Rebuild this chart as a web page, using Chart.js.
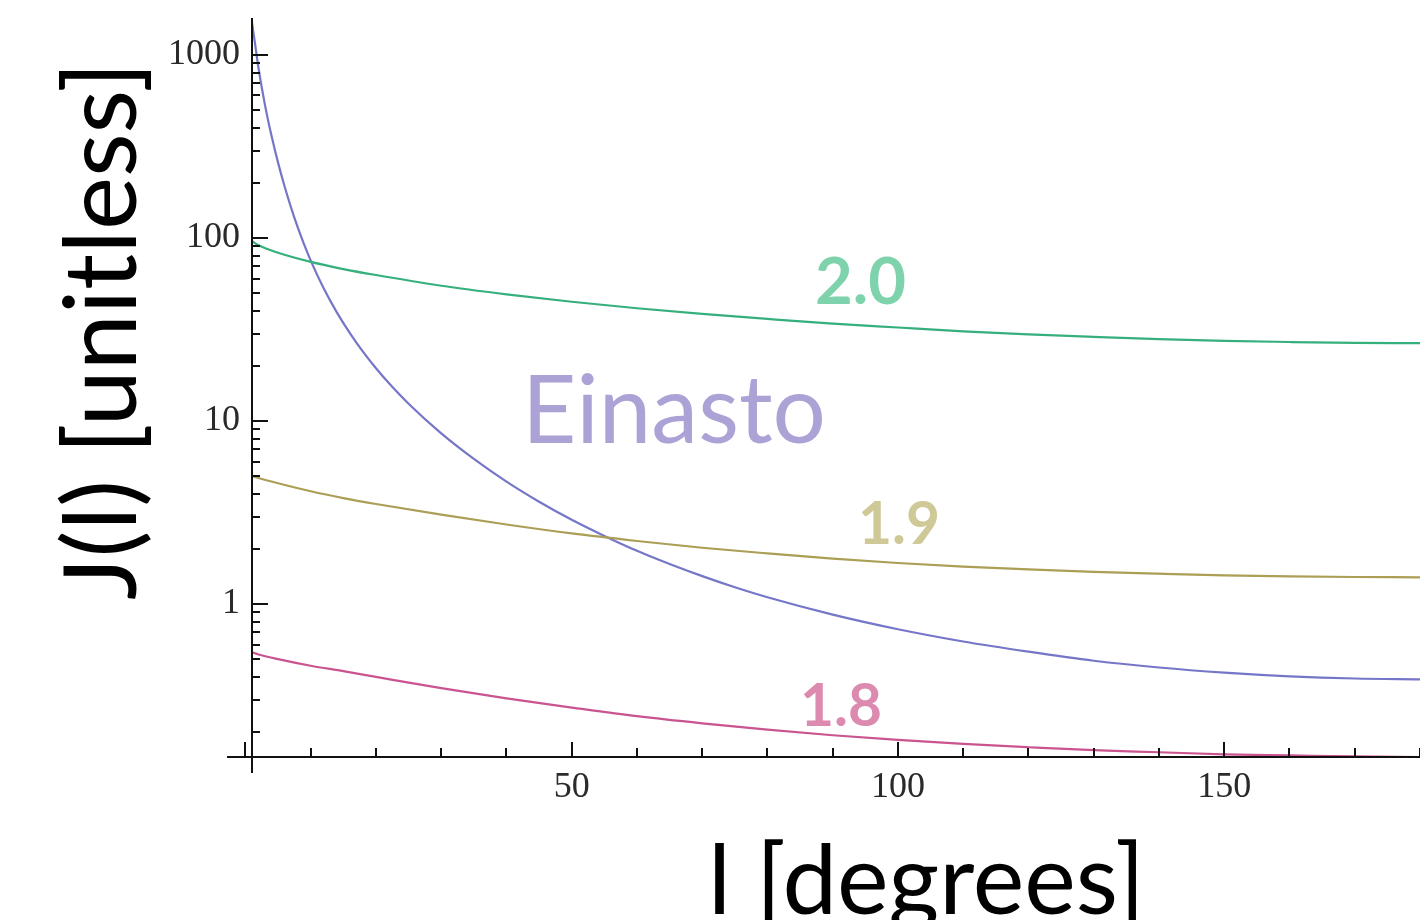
<!DOCTYPE html>
<html>
<head>
<meta charset="utf-8">
<script src="https://cdn.jsdelivr.net/npm/chart.js@4.4.1/dist/chart.umd.min.js"></script>
<style>
  html, body { margin: 0; padding: 0; background: #fff; }
  #wrap { width: 1420px; height: 920px; position: relative; }
</style>
</head>
<body>
<div id="wrap"><canvas id="c" width="1420" height="920"></canvas></div>
<script>
// ---- data ----
const lGnfw = [1, 2, 5, 10, 15, 20, 30, 40, 50, 60, 70, 80, 90, 100, 110, 120, 130, 140, 150, 160, 170, 180];
const jGamma20 = [96, 91.2, 83, 74, 67.6, 62.7, 54.8, 49.2, 44.8, 41.3, 38.5, 36.1, 34.0, 32.4, 30.9, 29.7, 28.8, 28.0, 27.4, 27.0, 26.7, 26.6];
const jGamma19 = [5.0, 4.88, 4.57, 4.13, 3.79, 3.52, 3.08, 2.72, 2.43, 2.21, 2.03, 1.89, 1.77, 1.675, 1.6, 1.545, 1.50, 1.465, 1.435, 1.415, 1.405, 1.40];
const jGamma18 = [0.545, 0.53, 0.50, 0.46, 0.43, 0.40, 0.347, 0.305, 0.272, 0.244, 0.223, 0.206, 0.192, 0.181, 0.172, 0.165, 0.159, 0.155, 0.151, 0.149, 0.147, 0.146];
const lEinasto = [1, 1.5, 2, 3, 4, 5, 6, 7, 8, 9, 10, 12, 14, 16, 18, 20, 22, 25, 30, 35, 40, 45, 50, 55, 60, 65, 70, 75, 80, 90, 100, 110, 120, 130, 140, 150, 160, 170, 180];
const jEinasto = [1500, 1129, 845, 530, 360, 257, 191, 146, 114.4, 91.9, 75.2, 52.9, 39.2, 30.2, 23.9, 19.4, 16.06, 12.42, 8.55, 6.20, 4.66, 3.62, 2.885, 2.355, 1.953, 1.653, 1.42, 1.235, 1.089, 0.875, 0.728, 0.624, 0.549, 0.49, 0.45, 0.422, 0.403, 0.392, 0.388];

const seriesNames = ['2.0', '1.9', '1.8', 'Einasto'];
const xTickLabels = [50, 100, 150];
const yTickLabels = [1, 10, 100, 1000];
const xTitle = 'l [degrees]';
const yTitle = 'J(l) [unitless]';

// ---- styling ----
const X_MIN = 1, X_MAX = 180, Y_MIN = 0.146, Y_MAX = 1590;
const lineColors = ['#35b07c', '#ab9e55', '#c9548f', '#7676c9'];
const labelColors = ['#7ed3ad', '#cfc897', '#dc8ab0', '#ada2d6'];
const SANS = 'Lato, "Open Sans", sans-serif';

function pts(xs, ys) { return xs.map((x, i) => ({ x: x, y: ys[i] })); }

const datasets = [
  { label: seriesNames[0], data: pts(lGnfw, jGamma20), borderColor: lineColors[0] },
  { label: seriesNames[1], data: pts(lGnfw, jGamma19), borderColor: lineColors[1] },
  { label: seriesNames[2], data: pts(lGnfw, jGamma18), borderColor: lineColors[2] },
  { label: seriesNames[3], data: pts(lEinasto, jEinasto), borderColor: lineColors[3] }
].map(d => Object.assign(d, {
  showLine: true, pointRadius: 0, borderWidth: 2.2, fill: false,
  cubicInterpolationMode: 'monotone'
}));

function fitText(ctx, text, weight, target) {
  ctx.font = weight + ' 100px ' + SANS;
  const w = ctx.measureText(text).width;
  const size = 100 * target / w;
  ctx.font = weight + ' ' + size.toFixed(2) + 'px ' + SANS;
}

const decor = {
  id: 'decor',
  afterDatasetsDraw(chart) {
    const ctx = chart.ctx;
    const xs = chart.scales.x, ys = chart.scales.y;
    const ax = xs.getPixelForValue(X_MIN);
    const ay = ys.getPixelForValue(Y_MIN);
    ctx.save();
    ctx.strokeStyle = '#111';
    ctx.lineWidth = 2;
    // axes
    ctx.beginPath();
    ctx.moveTo(ax, chart.chartArea.top);
    ctx.lineTo(ax, ay + 16);
    ctx.moveTo(ax - 25, ay);
    ctx.lineTo(chart.chartArea.right, ay);
    ctx.stroke();
    // y ticks (inward)
    ctx.beginPath();
    for (let d = -1; d <= 3; d++) {
      for (let m = 1; m <= 9; m++) {
        const v = m * Math.pow(10, d);
        if (v < Y_MIN || v > Y_MAX) continue;
        const p = Math.round(ys.getPixelForValue(v));
        const len = m === 1 ? 16 : 8;
        ctx.moveTo(ax, p);
        ctx.lineTo(ax + len, p);
      }
    }
    // x ticks (inward)
    for (let l = 0; l <= 180; l += 10) {
      const p = Math.round(xs.getPixelForValue(l));
      const len = l % 50 === 0 ? 15 : 9;
      ctx.moveTo(p, ay);
      ctx.lineTo(p, ay - len);
    }
    ctx.stroke();
    ctx.restore();
  },
  afterDraw(chart) {
    const ctx = chart.ctx;
    ctx.save();
    ctx.textAlign = 'left';
    ctx.textBaseline = 'alphabetic';
    // curve labels
    const lab = [
      { t: seriesNames[0], w: 'bold', x: 815, b: 304, tw: 91, c: labelColors[0] },
      { t: seriesNames[1], w: 'bold', x: 858, b: 544, tw: 82, c: labelColors[1] },
      { t: seriesNames[2], w: 'bold', x: 800, b: 726, tw: 82, c: labelColors[2] },
      { t: seriesNames[3], w: 'normal', x: 522, b: 443, tw: 304, c: labelColors[3] }
    ];
    lab.forEach(o => {
      fitText(ctx, o.t, o.w, o.tw);
      ctx.fillStyle = o.c;
      ctx.fillText(o.t, o.x, o.b);
    });
    // axis titles
    ctx.fillStyle = '#000';
    fitText(ctx, xTitle, 'normal', 437);
    ctx.fillText(xTitle, 708, 914);
    ctx.save();
    ctx.translate(136, 600);
    ctx.rotate(-Math.PI / 2);
    fitText(ctx, yTitle, 'normal', 538);
    ctx.fillText(yTitle, 0, 0);
    ctx.restore();
    ctx.restore();
  }
};

new Chart(document.getElementById('c'), {
  type: 'scatter',
  data: { datasets: datasets },
  options: {
    responsive: false,
    animation: false,
    devicePixelRatio: 1,
    layout: { padding: { top: 18, right: 0, bottom: 0, left: 0 } },
    plugins: { legend: { display: false }, tooltip: { enabled: false } },
    scales: {
      x: {
        type: 'linear', min: X_MIN, max: X_MAX,
        grid: { display: false, drawTicks: false },
        border: { display: false },
        afterBuildTicks: s => { s.ticks = xTickLabels.map(v => ({ value: v })); },
        ticks: {
          padding: 9, color: '#2a2a2a', maxRotation: 0, autoSkip: false,
          font: { family: '"Liberation Serif", "Times New Roman", serif', size: 36 },
          callback: v => String(v)
        },
        afterFit: s => { s.height = 163; s.paddingLeft = 0; s.paddingRight = 0; }
      },
      y: {
        type: 'logarithmic', min: Y_MIN, max: Y_MAX,
        grid: { display: false, drawTicks: false },
        border: { display: false },
        afterBuildTicks: s => { s.ticks = yTickLabels.map(v => ({ value: v })); },
        ticks: {
          padding: 12, color: '#2a2a2a', autoSkip: false,
          font: { family: '"Liberation Serif", "Times New Roman", serif', size: 36 },
          callback: v => String(v)
        },
        afterFit: s => { s.width = 252; s.paddingTop = 0; s.paddingBottom = 0; }
      }
    }
  },
  plugins: [decor]
});
</script>
</body>
</html>
